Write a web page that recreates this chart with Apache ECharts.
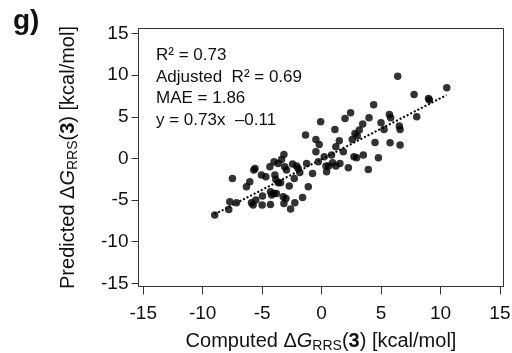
<!DOCTYPE html>
<html>
<head>
<meta charset="utf-8">
<script src="https://cdn.jsdelivr.net/npm/echarts@6/dist/echarts.min.js"></script>
<style>html,body{margin:0;padding:0;background:#fff;}#c{width:512px;height:353px;}</style>
</head>
<body>
<div id="c"></div>
<script>
// Computed ΔG (x) and Predicted ΔG (y), kcal/mol
var computed = [-8.99,-7.81,-7.72,-7.16,-7.5,-6.32,-6.04,-5.7,-5.6,-5.9,-5.76,-5.53,-5.0,-4.97,-5.06,-4.69,-4.35,-4.3,-4.3,-4.2,-4.0,-3.8,-4.0,-3.65,-3.37,-3.17,-3.93,-3.85,-3.65,-3.45,-3.23,-3.17,-3.0,-3.1,-2.95,-2.72,-2.61,-2.44,-2.3,-2.25,-1.97,-1.83,-1.6,-1.26,-1.12,-1.35,-0.76,-0.48,-0.48,-0.2,-0.28,-0.08,0.22,0.37,0.42,0.84,0.93,1.12,1.2,1.2,1.49,1.54,1.83,1.97,2.25,2.44,2.58,2.72,2.95,2.81,3.17,3.46,3.51,3.93,3.99,4.38,4.49,4.78,5.0,5.25,5.7,5.81,5.76,6.4,6.54,6.6,6.6,7.78,8.0,8.99,9.07,10.53,3.0,0.6,-2.1];
var predicted = [-6.8,-6.12,-5.2,-5.32,-2.4,-3.4,-2.8,-1.4,-1.2,-5.32,-5.6,-5.0,-5.6,-4.52,-2.0,-2.2,-1.0,-5.52,-4.0,-4.4,-4.2,-4.2,-0.4,-0.6,-0.12,0.48,-2.0,-2.52,-2.92,-2.92,-4.6,-5.4,-4.8,-1.0,-1.4,-3.32,-6.08,-0.68,-2.4,-5.32,-1.2,-1.68,-4.68,-0.6,-3.4,2.8,-1.8,2.28,0.8,1.68,-0.4,4.4,0.2,-0.92,-1.6,0.4,-0.52,3.48,1.4,-0.92,2.12,-0.6,0.8,4.8,-1.12,5.48,2.28,0.2,0.08,3.0,3.4,4.12,0.4,-1.32,4.88,6.44,1.92,0.08,4.28,3.48,5.28,4.88,1.88,9.88,3.88,3.48,1.6,7.68,5.0,7.2,7.0,8.48,2.7,-0.9,-0.9];
// Dotted fit line endpoints
var fitX = [-9.0, 10.5];
var fitY = [-6.7, 7.6];
var tickValues = [-15, -10, -5, 0, 5, 10, 15];
var statsLines = ['R\u00b2 = 0.73', 'Adjusted  R\u00b2 = 0.69', 'MAE = 1.86', 'y = 0.73x  \u20130.11'];
var panelLabel = 'g)';

var FONT = '"Liberation Sans", Arial, sans-serif';
var points = computed.map(function (x, i) { return [x, predicted[i]]; });
var fitLine = fitX.map(function (x, i) { return [x, fitY[i]]; });

var rich = {
  t: { fontSize: 20, fontFamily: FONT, color: '#111', lineHeight: 24 },
  i: { fontSize: 20, fontFamily: FONT, color: '#111', fontStyle: 'italic', lineHeight: 24 },
  s: { fontSize: 14, fontFamily: FONT, color: '#111', lineHeight: 10, verticalAlign: 'bottom' },
  b: { fontSize: 20, fontFamily: FONT, color: '#111', fontWeight: 'bold', lineHeight: 24 }
};
function axName(prefix) {
  return '{t|' + prefix + ' \u0394}{i|G}{s|RRS}{t|(}{b|3}{t|) [kcal/mol]}';
}

var chart = echarts.init(document.getElementById('c'), null, { renderer: 'canvas' });
chart.setOption({
  animation: false,
  backgroundColor: '#fff',
  title: [
    { text: panelLabel, left: 8, top: 2, textStyle: { fontSize: 28, fontWeight: 'bold', fontFamily: FONT, color: '#111' } },
    { text: statsLines.join('\n'), left: 151, top: 40, textStyle: { fontSize: 17, fontWeight: 'normal', fontFamily: FONT, color: '#111', lineHeight: 21.5 } }
  ],
  grid: { left: 138.5, top: 28.5, right: 8.5, bottom: 66.5, outerBoundsMode: 'none', containLabel: false, show: true, borderColor: '#333', borderWidth: 1, backgroundColor: 'transparent' },
  xAxis: {
    type: 'value', min: -15.4, max: 15.3,
    splitLine: { show: false },
    axisLine: { show: true, onZero: false, lineStyle: { color: '#333', width: 1 } },
    axisTick: { show: true, length: 8, inside: false, customValues: tickValues, lineStyle: { color: '#333' } },
    axisLabel: { customValues: tickValues, margin: 18, fontSize: 19, fontFamily: FONT, color: '#111' },
    name: axName('Computed'), nameLocation: 'middle', nameGap: 43,
    nameTextStyle: { rich: rich }
  },
  yAxis: {
    type: 'value', min: -15.38, max: 15.6,
    splitLine: { show: false },
    axisLine: { show: true, onZero: false, lineStyle: { color: '#333', width: 1 } },
    axisTick: { show: true, length: 7, inside: false, customValues: tickValues, lineStyle: { color: '#333' } },
    axisLabel: { customValues: tickValues, margin: 10, fontSize: 19, fontFamily: FONT, color: '#111' },
    name: axName('Predicted'), nameLocation: 'middle', nameGap: 58, nameRotate: 90,
    nameTextStyle: { rich: rich }
  },
  series: [
    {
      type: 'line', data: fitLine, showSymbol: false, symbol: 'none',
      lineStyle: { color: '#000', width: 2, type: [2, 2] }, z: 3
    },
    {
      type: 'scatter', data: points, symbol: 'circle', symbolSize: 7.5,
      itemStyle: { color: '#000' }, z: 2
    }
  ]
});
</script>
</body>
</html>
